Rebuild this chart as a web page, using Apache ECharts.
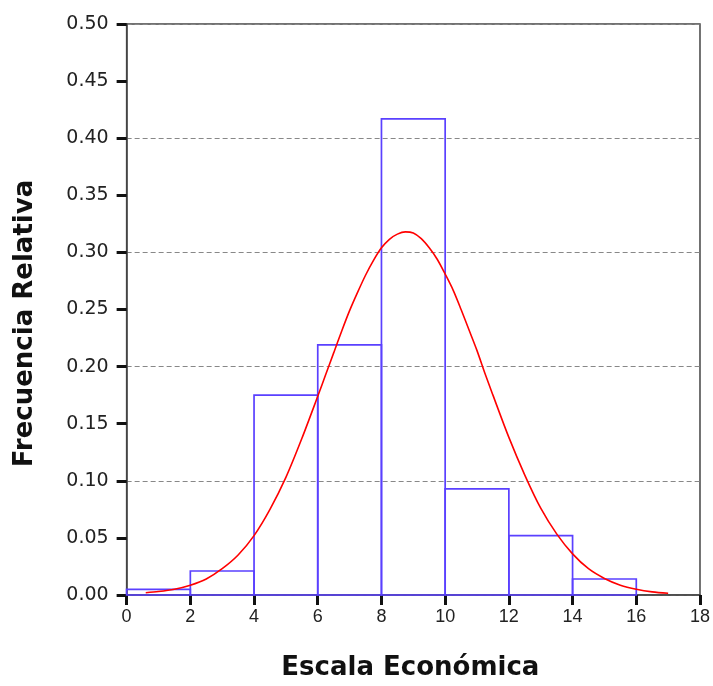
<!DOCTYPE html>
<html>
<head>
<meta charset="utf-8">
<script src="https://cdn.jsdelivr.net/npm/echarts@6/dist/echarts.min.js"></script>
<style>
html,body{margin:0;padding:0;background:#ffffff;width:100%;height:100%;overflow:hidden;}
#chart{position:absolute;left:0;top:0;width:100vw;height:100vh;}
</style>
</head>
<body>
<div id="chart"></div>
<script>
// Histogram bins (Escala Económica) and relative frequencies
var binStarts = [0, 2, 4, 6, 8, 10, 12, 14];
var binEnds   = [2, 4, 6, 8, 10, 12, 14, 16];
var relFreq   = [0.005, 0.021, 0.175, 0.219, 0.417, 0.093, 0.052, 0.014];

// Fitted normal curve
var curveX = [0.6, 1, 1.5, 2, 2.5, 3, 3.5, 4, 4.5, 5, 5.5, 6, 6.25, 6.5, 6.75, 7, 7.25, 7.5, 7.75, 8, 8.25, 8.5, 8.75, 9, 9.25, 9.5, 9.75, 10, 10.25, 10.5, 10.75, 11, 11.25, 11.5, 12, 12.5, 13, 13.5, 14, 14.5, 15, 15.5, 16, 16.5, 17];
var curveY = [0.002, 0.003, 0.005, 0.0085, 0.014, 0.023, 0.035, 0.052, 0.075, 0.103, 0.137, 0.174, 0.193, 0.212, 0.231, 0.249, 0.265, 0.280, 0.293, 0.304, 0.3115, 0.316, 0.318, 0.317, 0.312, 0.304, 0.294, 0.281, 0.267, 0.250, 0.232, 0.214, 0.194, 0.175, 0.138, 0.105, 0.076, 0.0535, 0.036, 0.023, 0.0145, 0.0086, 0.005, 0.0027, 0.0015];

// Axis settings
var xTicks = { min: 0, max: 18, interval: 2 };
var yTicks = { min: 0, max: 0.5, interval: 0.05 };
var gridTicks = { min: 0, max: 0.5, interval: 0.1 };
var xTitle = 'Escala Económica';
var yTitle = 'Frecuencia Relativa';

var barData = binStarts.map(function (s, i) { return [s, binEnds[i], relFreq[i]]; });
var lineData = curveX.map(function (x, i) { return [x, curveY[i]]; });

var chart = echarts.init(document.getElementById('chart'), null, { renderer: 'canvas' });
chart.setOption({
  backgroundColor: '#ffffff',
  animation: false,
  grid: {
    left: '17.76%', right: '1.3%', top: '3.5%', bottom: '12.3%',
    show: true, borderColor: '#444444', borderWidth: 1.5, backgroundColor: 'transparent'
  },
  xAxis: {
    type: 'value', min: xTicks.min, max: xTicks.max, interval: xTicks.interval,
    name: xTitle, nameLocation: 'middle', nameGap: 60,
    nameTextStyle: { fontFamily: 'DejaVu Sans', fontWeight: 'bold', fontSize: 26, color: '#111111', padding: [0, 6, 0, 0] },
    axisLine: { show: true, onZero: false, lineStyle: { color: '#444444', width: 1.5 } },
    axisTick: { show: true, length: 10, lineStyle: { color: '#111111', width: 3 } },
    axisLabel: { margin: 13, fontFamily: 'Liberation Sans', fontSize: 18, color: '#222222' },
    splitLine: { show: false }
  },
  yAxis: [{
    type: 'value', min: yTicks.min, max: yTicks.max, interval: yTicks.interval,
    name: yTitle, nameLocation: 'middle', nameGap: 88,
    nameTextStyle: { fontFamily: 'DejaVu Sans', fontWeight: 'bold', fontSize: 26, color: '#111111', padding: [0, 28, 0, 0] },
    axisLine: { show: true, onZero: false, lineStyle: { color: '#444444', width: 1.5 } },
    axisTick: { show: true, length: 10, lineStyle: { color: '#111111', width: 3 } },
    axisLabel: { margin: 18, fontFamily: 'DejaVu Sans', fontSize: 19, color: '#222222',
      formatter: function (v) { return v.toFixed(2); } },
    splitLine: { show: false }
  }, {
    type: 'value', min: gridTicks.min, max: gridTicks.max, interval: gridTicks.interval,
    position: 'left',
    axisLine: { show: false }, axisTick: { show: false }, axisLabel: { show: false },
    splitLine: { show: true, lineStyle: { color: '#888888', width: 1, type: [5, 3] } }
  }],
  series: [{
    type: 'custom',
    data: barData,
    encode: { x: [0, 1], y: 2 },
    z: 3,
    renderItem: function (params, api) {
      var p0 = api.coord([api.value(0), api.value(2)]);
      var p1 = api.coord([api.value(1), 0]);
      return {
        type: 'rect',
        shape: { x: p0[0], y: p0[1], width: p1[0] - p0[0], height: p1[1] - p0[1] },
        style: { fill: 'none', stroke: '#5a40ff', lineWidth: 1.7 }
      };
    }
  }, {
    type: 'line',
    data: lineData,
    smooth: 0.3,
    showSymbol: false,
    z: 4,
    lineStyle: { color: '#ff0000', width: 1.6 }
  }]
});
window.addEventListener('resize', function () { chart.resize(); });
</script>
</body>
</html>
